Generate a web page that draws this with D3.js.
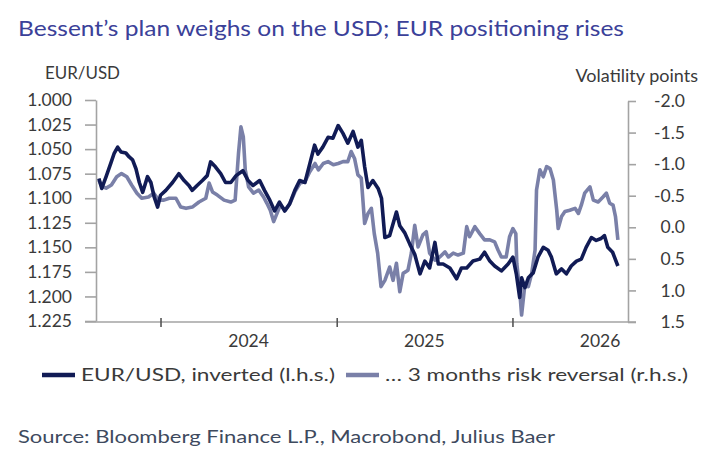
<!DOCTYPE html>
<html>
<head>
<meta charset="utf-8">
<script src="https://cdn.jsdelivr.net/npm/d3@7"></script>
<style>
  body { margin: 0; background: #fff; }
  text { font-family: Lato, "Open Sans", sans-serif; }
</style>
</head>
<body>
<svg id="chart" width="712" height="474"></svg>
<script>
// EUR/USD (inverted, left axis)
var eurDates = ["2023-08-26","2023-09-01","2023-09-10","2023-09-20","2023-09-27","2023-10-04","2023-10-11","2023-10-21","2023-10-28","2023-11-04",
  "2023-11-11","2023-11-18","2023-11-25","2023-12-05","2023-12-12","2023-12-19","2023-12-26","2024-01-01","2024-01-12","2024-01-26",
  "2024-02-08","2024-02-19","2024-02-29","2024-03-07","2024-03-17","2024-03-28","2024-04-07","2024-04-14","2024-04-24","2024-05-05",
  "2024-05-15","2024-05-26","2024-06-06","2024-06-20","2024-07-01","2024-07-11","2024-07-25","2024-08-04","2024-08-15","2024-08-25",
  "2024-09-04","2024-09-15","2024-09-25","2024-10-06","2024-10-16","2024-10-27","2024-11-06","2024-11-16","2024-11-23","2024-12-03",
  "2024-12-14","2024-12-24","2025-01-04","2025-01-14","2025-01-24","2025-02-04","2025-02-14","2025-02-21","2025-02-28","2025-03-07",
  "2025-03-17","2025-03-28","2025-04-04","2025-04-11","2025-04-21","2025-05-05","2025-05-12","2025-05-22","2025-06-02","2025-06-12",
  "2025-06-23","2025-07-03","2025-07-13","2025-07-24","2025-07-31","2025-08-10","2025-08-24","2025-09-07","2025-09-17","2025-09-28",
  "2025-10-11","2025-10-25","2025-11-04","2025-11-15","2025-11-25","2025-12-09","2025-12-23","2026-01-02","2026-01-09","2026-01-16",
  "2026-01-20","2026-01-27","2026-02-03","2026-02-13","2026-02-23","2026-03-06","2026-03-16","2026-03-23","2026-04-02","2026-04-13",
  "2026-04-23","2026-05-03","2026-05-14","2026-05-24","2026-06-03","2026-06-14","2026-06-24","2026-07-04","2026-07-11","2026-07-18",
  "2026-07-28","2026-08-08"];
var eurValues = [1.080,1.090,1.078,1.064,1.054,1.048,1.053,1.054,1.058,1.061,
  1.070,1.084,1.094,1.078,1.084,1.099,1.109,1.097,1.092,1.084,
  1.075,1.082,1.087,1.092,1.087,1.082,1.077,1.063,1.068,1.075,
  1.084,1.084,1.077,1.072,1.082,1.087,1.082,1.092,1.102,1.113,
  1.104,1.113,1.106,1.092,1.082,1.084,1.065,1.046,1.055,1.048,
  1.038,1.039,1.026,1.034,1.044,1.032,1.048,1.041,1.068,1.089,
  1.082,1.090,1.100,1.140,1.138,1.114,1.128,1.135,1.147,1.157,
  1.177,1.164,1.171,1.145,1.167,1.167,1.171,1.182,1.171,1.171,
  1.164,1.162,1.155,1.164,1.169,1.174,1.167,1.160,1.177,1.201,
  1.181,1.191,1.181,1.176,1.160,1.150,1.153,1.160,1.177,1.172,
  1.177,1.169,1.164,1.162,1.150,1.140,1.143,1.141,1.138,1.150,
  1.155,1.169];

// 3 months risk reversal (right axis, volatility points)
var rrDates = ["2023-08-26","2023-09-01","2023-09-10","2023-09-21","2023-10-02","2023-10-12","2023-10-23","2023-11-02","2023-11-13","2023-11-23",
  "2023-12-07","2023-12-18","2023-12-28","2024-01-08","2024-01-19","2024-02-02","2024-02-12","2024-02-23","2024-03-07","2024-03-21",
  "2024-04-04","2024-04-11","2024-04-18","2024-04-28","2024-05-12","2024-05-26","2024-06-04","2024-06-11","2024-06-16","2024-06-21",
  "2024-06-25","2024-07-02","2024-07-12","2024-07-23","2024-08-02","2024-08-09","2024-08-16","2024-08-23","2024-08-30","2024-09-06",
  "2024-09-16","2024-09-26","2024-10-06","2024-10-17","2024-10-27","2024-11-06","2024-11-17","2024-11-24","2024-12-04","2024-12-14",
  "2024-12-25","2025-01-04","2025-01-14","2025-01-24","2025-01-31","2025-02-07","2025-02-14","2025-02-21","2025-02-28","2025-03-07",
  "2025-03-14","2025-03-20","2025-03-27","2025-04-03","2025-04-11","2025-04-21","2025-04-28","2025-05-05","2025-05-12","2025-05-19",
  "2025-05-29","2025-06-05","2025-06-12","2025-06-19","2025-06-29","2025-07-06","2025-07-13","2025-07-24","2025-08-03","2025-08-14",
  "2025-08-21","2025-08-31","2025-09-10","2025-09-21","2025-09-28","2025-10-04","2025-10-15","2025-10-25","2025-11-04","2025-11-15",
  "2025-11-25","2025-12-02","2025-12-09","2025-12-19","2025-12-26","2026-01-02","2026-01-08","2026-01-10","2026-01-16","2026-01-20",
  "2026-01-27","2026-02-03","2026-02-10","2026-02-17","2026-02-20","2026-02-27","2026-03-06","2026-03-13","2026-03-20","2026-03-27",
  "2026-04-03","2026-04-06","2026-04-13","2026-04-20","2026-04-30","2026-05-11","2026-05-18","2026-05-24","2026-05-31","2026-06-11",
  "2026-06-18","2026-06-28","2026-07-08","2026-07-15","2026-07-22","2026-07-29","2026-08-03","2026-08-08"];
var rrValues = [-0.75,-0.65,-0.62,-0.67,-0.80,-0.85,-0.80,-0.67,-0.54,-0.46,
  -0.48,-0.54,-0.43,-0.43,-0.46,-0.46,-0.32,-0.30,-0.32,-0.40,
  -0.46,-0.70,-0.56,-0.51,-0.43,-0.40,-0.43,-1.17,-1.59,-1.43,
  -0.91,-0.64,-0.54,-0.59,-0.48,-0.38,-0.27,-0.09,-0.22,-0.35,
  -0.27,-0.38,-0.56,-0.70,-0.72,-0.88,-1.01,-0.91,-1.01,-1.04,
  -0.99,-1.01,-1.04,-1.04,-1.20,-1.09,-0.83,-0.78,-0.06,-0.22,
  -0.30,0.10,0.41,0.94,0.84,0.63,0.84,0.57,1.02,0.73,
  0.68,0.41,-0.03,0.31,0.12,0.07,0.41,0.52,0.47,0.39,
  0.47,0.41,0.44,0.41,-0.01,0.15,-0.01,0.10,0.20,0.20,
  0.23,0.36,0.47,0.47,0.15,0.02,0.10,0.57,1.00,1.39,
  0.89,0.94,0.73,0.36,-0.59,-0.91,-0.80,-0.96,-0.93,-0.75,
  -0.27,0.02,-0.17,-0.25,-0.27,-0.30,-0.22,-0.35,-0.54,-0.64,
  -0.43,-0.40,-0.48,-0.54,-0.38,-0.35,-0.17,0.20];

var leftTicks = [1.000,1.025,1.050,1.075,1.100,1.125,1.150,1.175,1.200,1.225];
var rightTicks = [-2.0,-1.5,-1.0,-0.5,0.0,0.5,1.0,1.5];
var yearTicks = ["2024-01-01","2025-01-01","2026-01-01"];
var yearLabels = ["2024","2025","2026"];
var yearLabelDates = ["2024-07-02","2025-07-02","2026-07-02"];

var darkBlue = "#111b55", greyBlue = "#7a80a8", axisGrey = "#a3a3a3", textGrey = "#3a3a3a";
var parse = d3.timeParse("%Y-%m-%d");

var svg = d3.select("#chart");

var x = d3.scaleTime()
    .domain([parse("2023-08-20"), parse("2026-08-29")])
    .range([96, 628]);
var yL = d3.scaleLinear().domain([1.0, 1.225]).range([100, 321]);
var yR = d3.scaleLinear().domain([-2.0, 1.5]).range([101, 322]);

// title
svg.append("text")
    .attr("x", 18).attr("y", 36)
    .attr("textLength", 606).attr("lengthAdjust", "spacingAndGlyphs")
    .style("font-size", "22px").style("fill", "#3b4199")
    .text("Bessent\u2019s plan weighs on the USD; EUR positioning rises");

svg.append("text")
    .attr("x", 45).attr("y", 79)
    .attr("textLength", 75).attr("lengthAdjust", "spacingAndGlyphs")
    .style("font-size", "18px").style("fill", textGrey)
    .text("EUR/USD");

svg.append("text")
    .attr("x", 698).attr("y", 82).attr("text-anchor", "end")
    .style("font-size", "18px").style("fill", textGrey)
    .text("Volatility points");

// left axis
var leftAxis = svg.append("g")
    .attr("transform", "translate(96,0)")
    .call(d3.axisLeft(yL).tickValues(leftTicks).tickFormat(d3.format(".3f")).tickSize(11).tickSizeOuter(0).tickPadding(13));

// right axis, plain hyphen for the minus sign as in the original
var rightAxis = svg.append("g")
    .attr("transform", "translate(628,0)")
    .call(d3.axisRight(yR).tickValues(rightTicks)
      .tickFormat(function(d){ return d.toFixed(1); })
      .tickSize(8).tickSizeOuter(0));
rightAxis.selectAll(".tick text").attr("x", 57).attr("text-anchor", "end");

// bottom axis
var bottomAxis = svg.append("g")
    .attr("transform", "translate(0,322)")
    .call(d3.axisBottom(x).tickValues(yearTicks.map(parse)).tickFormat("").tickSize(5).tickSizeOuter(0));
bottomAxis.selectAll(".tick line").attr("y1", -4);
bottomAxis.select(".domain").attr("d", "M85,0H636");

[leftAxis, rightAxis, bottomAxis].forEach(function(g){
  g.select(".domain").attr("stroke", axisGrey).attr("stroke-width", 1.6);
  g.selectAll(".tick line").attr("stroke", axisGrey).attr("stroke-width", 1.6);
  g.selectAll(".tick text").style("font-size", "17.5px").style("fill", textGrey)
    .style("font-family", "Lato, sans-serif");
});
bottomAxis.selectAll(".tick line").attr("stroke", "#555").attr("stroke-width", 1.6);

svg.selectAll(".yearLabel")
    .data(yearLabels)
    .enter()
    .append("text")
    .attr("class", "yearLabel")
    .attr("x", function(d, i){ return x(parse(yearLabelDates[i])); })
    .attr("y", 347)
    .attr("text-anchor", "middle")
    .style("font-size", "17.5px").style("fill", textGrey)
    .text(function(d){ return d; });

// lines
var rrData = rrDates.map(function(d, i){ return {date: parse(d), value: rrValues[i]}; });
var eurData = eurDates.map(function(d, i){ return {date: parse(d), value: eurValues[i]}; });

svg.append("path")
    .datum(rrData)
    .attr("fill", "none")
    .attr("stroke", greyBlue)
    .attr("stroke-width", 3.6)
    .attr("stroke-linejoin", "round")
    .attr("d", d3.line().x(function(d){ return x(d.date); }).y(function(d){ return yR(d.value); }));

svg.append("path")
    .datum(eurData)
    .attr("fill", "none")
    .attr("stroke", darkBlue)
    .attr("stroke-width", 3.6)
    .attr("stroke-linejoin", "round")
    .attr("d", d3.line().x(function(d){ return x(d.date); }).y(function(d){ return yL(d.value); }));

// legend
var legend = svg.append("g").attr("transform", "translate(0,375)");
legend.append("line").attr("x1", 42).attr("x2", 75).attr("y1", 0).attr("y2", 0)
    .attr("stroke", darkBlue).attr("stroke-width", 4.5);
legend.append("text").attr("x", 81).attr("y", 6)
    .attr("textLength", 254).attr("lengthAdjust", "spacingAndGlyphs")
    .style("font-size", "18px").style("fill", textGrey)
    .text("EUR/USD, inverted (l.h.s.)");
legend.append("line").attr("x1", 346).attr("x2", 379).attr("y1", 0).attr("y2", 0)
    .attr("stroke", greyBlue).attr("stroke-width", 4.5);
legend.append("text").attr("x", 385).attr("y", 6)
    .attr("textLength", 303).attr("lengthAdjust", "spacingAndGlyphs")
    .style("font-size", "18px").style("fill", textGrey)
    .text("\u2026 3 months risk reversal (r.h.s.)");

// source
svg.append("text")
    .attr("x", 18).attr("y", 443)
    .attr("textLength", 537).attr("lengthAdjust", "spacingAndGlyphs")
    .style("font-size", "17px").style("fill", "#3e4a5e")
    .text("Source: Bloomberg Finance L.P., Macrobond, Julius Baer");
</script>
</body>
</html>
